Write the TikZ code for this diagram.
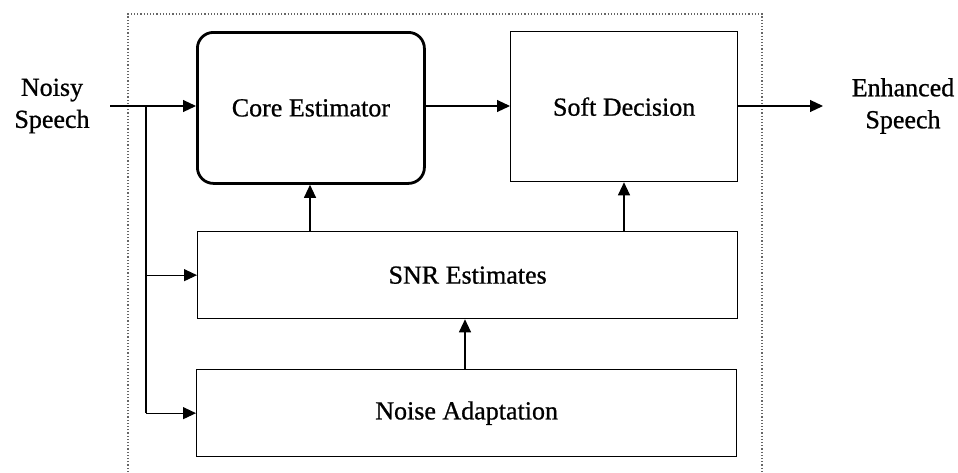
\documentclass[tikz,border=0pt]{standalone}
\usepackage{fontspec}
\setmainfont{Liberation Serif}
\newfontfamily\labelfont[FakeBold=0.8]{Liberation Serif}
\usetikzlibrary{arrows.meta}
\begin{document}
\begin{tikzpicture}[x=1pt,y=-1pt,
  every node/.style={font=\labelfont\fontsize{26}{32}\selectfont},
  block/.style={draw, line width=1.3pt, inner sep=0pt, anchor=north west},
  coreblock/.style={block, line width=2.8pt, rounded corners=16pt},
  flow/.style={draw, line width=1.1pt, -{Triangle[length=13pt,width=12pt]}},
  wire/.style={draw, line width=1.1pt},
  frame/.style={draw, gray!80!black, line width=1.2pt, dotted}]
\useasboundingbox (0,0) rectangle (958,472);

% enclosing system boundary
\draw[frame] (128,472) -- (128,14) -- (762,14) -- (762,472);

% processing blocks
\node[coreblock, minimum width=227pt, minimum height=151pt] (core) at (196,31) {};
\node at (core.center) {Core Estimator};
\node[block, minimum width=227pt, minimum height=150pt] (soft) at (510,31) {};
\node at (soft.center) {Soft Decision};
\node[block, minimum width=540pt, minimum height=87pt] (snr) at (197,231) {};
\node at (snr.center) {SNR Estimates};
\node[block, minimum width=540pt, minimum height=87pt] (noise) at (196,369) {};
\node at (noise.center) {Noise Adaptation};

% input and output labels
\node[align=center] (in) at (52,106) {Noisy\\Speech};
\node[align=center] (out) at (903,106) {Enhanced\\Speech};

% signal paths
\coordinate (src) at (110,106);
\coordinate (split) at (146,106);
\coordinate (dst) at (823,106);
\draw[flow] (src) -- (core.west |- src);
\draw[wire] (split) -- (split |- noise.west);
\draw[flow] (split |- snr.west) -- (snr.west);
\draw[flow] (split |- noise.west) -- (noise.west);
\draw[flow] (core.east |- src) -- (soft.west |- src);
\draw[flow] (soft.east |- src) -- (dst);

\coordinate (a) at (310,0);
\coordinate (b) at (624,0);
\coordinate (c) at (465,0);
\draw[flow] (a |- snr.north) -- (a |- core.south);
\draw[flow] (b |- snr.north) -- (b |- soft.south);
\draw[flow] (c |- noise.north) -- (c |- snr.south);
\end{tikzpicture}
\end{document}
